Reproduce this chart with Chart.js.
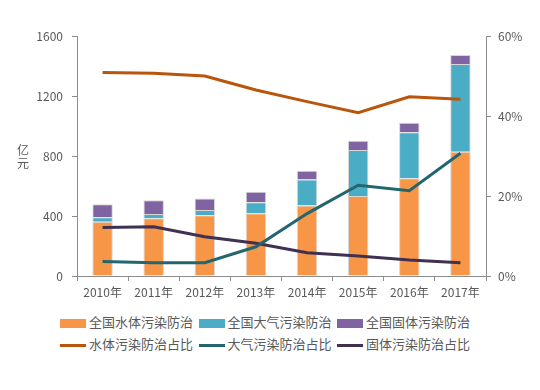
<!DOCTYPE html>
<html>
<head>
<meta charset="utf-8">
<script src="https://cdn.jsdelivr.net/npm/chart.js@4"></script>
<style>
    body { margin: 0; background: #fff; font-family: "Noto Sans CJK SC", "Noto Sans", sans-serif; }
    #wrap { position: relative; width: 540px; height: 390px; }
    #chartBox { position: absolute; left: 0; top: 0; width: 540px; height: 300px; }
    #ytitle { position: absolute; left: 17px; top: 143px; font-size: 12px; line-height: 13px; color: #595959; width: 12px; }
    .leg { position: absolute; font-size: 13px; color: #595959; white-space: nowrap; line-height: 16px; }
    .leg i { display: inline-block; width: 26px; vertical-align: middle; margin-right: 3px; }
</style>
</head>
<body>
<div id="wrap">
    <div id="chartBox"><canvas id="c"></canvas></div>
    <div id="ytitle">亿<br>元</div>
    <div id="legend"></div>
</div>
<script>
const years = ['2010年', '2011年', '2012年', '2013年', '2014年', '2015年', '2016年', '2017年'];

// investment, 亿元
const waterInvest = [362, 385, 405, 418, 470, 533, 651, 829];
const airInvest = [29, 28, 35, 73, 174, 307, 307, 584];
const solidInvest = [87, 92, 76, 71, 58, 62, 64, 60];

// share, %
const waterShare = [50.9, 50.7, 50.0, 46.5, 43.6, 40.8, 44.8, 44.2];
const airShare = [3.6, 3.3, 3.3, 7.3, 15.6, 22.7, 21.3, 30.7];
const solidShare = [12.1, 12.3, 9.8, 8.2, 5.8, 5.0, 4.0, 3.3];

const leftTicks = [0, 400, 800, 1200, 1600];
const rightTicks = [0, 20, 40, 60];

const axisColor = '#8c8c8c';
const textColor = '#595959';
const font = { family: '"Noto Sans CJK SC", "Noto Sans", sans-serif', size: 12 };

function barSet(label, data, color) {
    return {
        type: 'bar', label: label, data: data, yAxisID: 'y', order: 1,
        backgroundColor: color, borderColor: 'rgba(210,210,210,0.9)', borderWidth: 1,
        barPercentage: 0.4, categoryPercentage: 1
    };
}
function lineSet(label, data, color) {
    return {
        type: 'line', label: label, data: data, yAxisID: 'y1', order: 0,
        borderColor: color, backgroundColor: color, borderWidth: 3,
        pointRadius: 0, tension: 0, fill: false
    };
}

const chart = new Chart(document.getElementById('c'), {
    data: {
        labels: years,
        datasets: [
            barSet('全国水体污染防治', waterInvest, '#f79646'),
            barSet('全国大气污染防治', airInvest, '#4bacc6'),
            barSet('全国固体污染防治', solidInvest, '#8064a2'),
            lineSet('水体污染防治占比', waterShare, '#b9560c'),
            lineSet('大气污染防治占比', airShare, '#23666f'),
            lineSet('固体污染防治占比', solidShare, '#403152')
        ]
    },
    options: {
        responsive: true,
        maintainAspectRatio: false,
        animation: false,
        layout: { padding: { top: 36, bottom: 0, left: 0, right: 0 } },
        plugins: { legend: { display: false }, tooltip: { enabled: false } },
        scales: {
            x: {
                stacked: true,
                offset: true,
                afterFit: s => { s.height = 24; },
                grid: { offset: true, drawOnChartArea: false, color: axisColor, tickLength: 5 },
                border: { color: axisColor },
                ticks: { color: textColor, font: font, padding: 4, maxRotation: 0 }
            },
            y: {
                stacked: true,
                position: 'left',
                min: 0, max: 1600,
                afterFit: s => { s.width = 77; },
                afterBuildTicks: s => { s.ticks = leftTicks.map(v => ({ value: v })); },
                grid: { drawOnChartArea: false, color: axisColor, tickLength: 5 },
                border: { color: axisColor },
                ticks: { color: textColor, font: font, padding: 9, callback: v => String(v) }
            },
            y1: {
                position: 'right',
                min: 0, max: 60,
                afterFit: s => { s.width = 54; },
                afterBuildTicks: s => { s.ticks = rightTicks.map(v => ({ value: v })); },
                grid: { drawOnChartArea: false, color: axisColor, tickLength: 5 },
                border: { color: axisColor },
                ticks: { color: textColor, font: font, padding: 7, callback: v => v + '%' }
            }
        }
    }
});

// legend, two rows of three
const legend = document.getElementById('legend');
chart.data.datasets.forEach((ds, i) => {
    const item = document.createElement('div');
    item.className = 'leg';
    item.style.left = (60 + (i % 3) * 138.5) + 'px';
    item.style.top = (i < 3 ? 314 : 336) + 'px';
    const sw = document.createElement('i');
    sw.style.background = ds.type === 'bar' ? ds.backgroundColor : ds.borderColor;
    sw.style.height = ds.type === 'bar' ? '9px' : '3px';
    item.appendChild(sw);
    item.appendChild(document.createTextNode(ds.label));
    legend.appendChild(item);
});
</script>
</body>
</html>
